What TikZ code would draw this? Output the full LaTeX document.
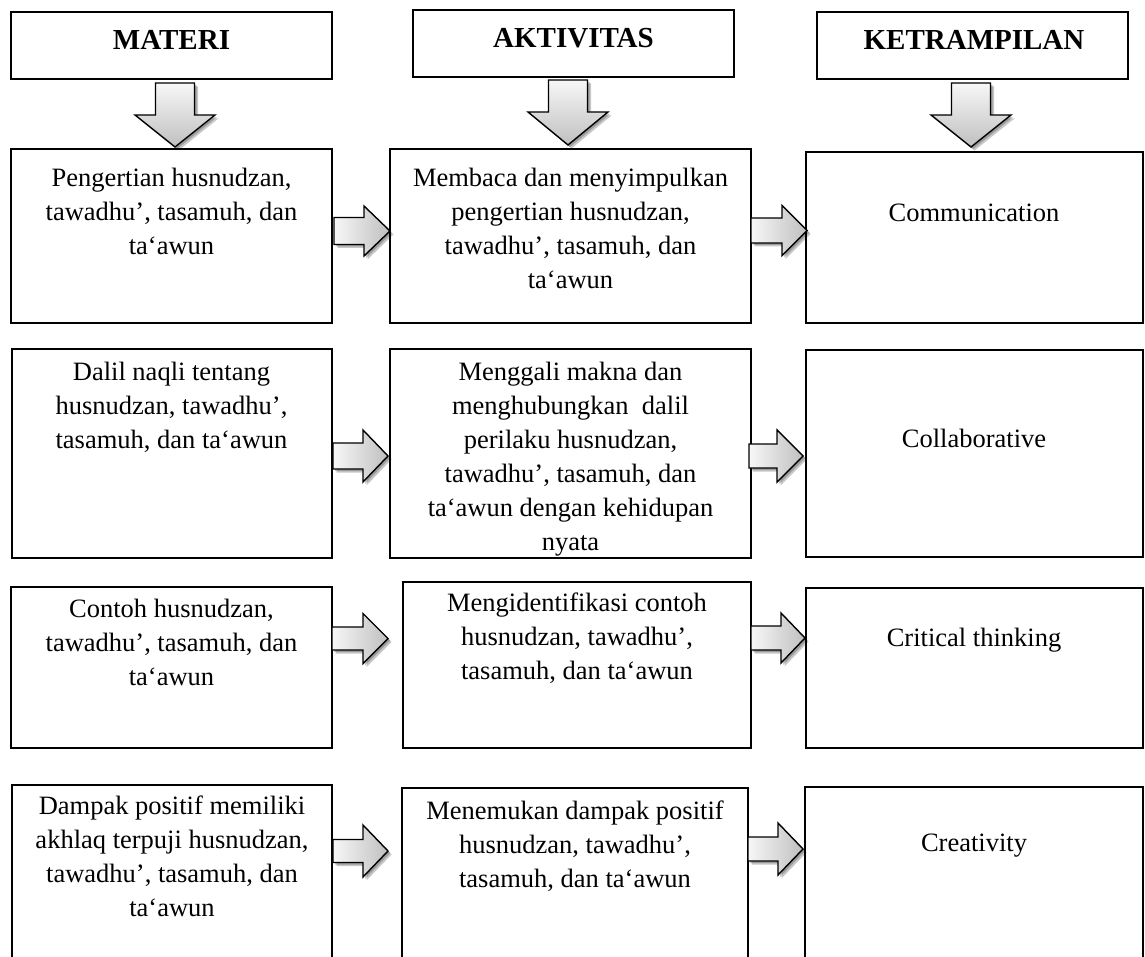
\documentclass[tikz,border=0pt]{standalone}
\usepackage{fontspec}
\setmainfont{Liberation Serif}
\usetikzlibrary{calc}

\tikzset{
  box/.style={draw=black, line width=1.6pt, fill=white, inner sep=0pt, outer sep=0pt, anchor=north west},
  hdr/.style={font=\fontsize{29}{34}\selectfont\bfseries, inner sep=0pt, anchor=base},
  txt/.style={font=\fontsize{26.5}{34}\selectfont, align=center, inner sep=0pt},
  rshade/.style={left color=gray!6, right color=gray!50, draw=black, line width=1.4pt, line join=miter},
  dshade/.style={top color=gray!6, bottom color=gray!50, draw=black, line width=1.4pt, line join=miter},
  shd/.style={fill=black, opacity=0.22},
}

% box: name, x1, y1, x2, y2
\newcommand\mybox[5]{\node[box, minimum width={(#4-#2)*1pt}, minimum height={(#5-#3)*1pt}] (#1) at (#2,#3) {};}
% right block arrow: x0, xhead, xtip, ycentre, shaft half-height, head half-height
\newcommand\rarr[6]{%
  \foreach \s in {2,3.5}{\fill[shd, xshift=\s pt, yshift=-\s pt] (#1,#4-#5) -- (#2,#4-#5) -- (#2,#4-#6) -- (#3,#4) -- (#2,#4+#6) -- (#2,#4+#5) -- (#1,#4+#5) -- cycle;}
  \draw[rshade] (#1,#4-#5) -- (#2,#4-#5) -- (#2,#4-#6) -- (#3,#4) -- (#2,#4+#6) -- (#2,#4+#5) -- (#1,#4+#5) -- cycle;}
% down block arrow: xc, ytop, yhead, ytip, shaft half-width, head half-width
\newcommand\darr[6]{%
  \foreach \s in {2,3.5}{\fill[shd, xshift=\s pt, yshift=-\s pt] (#1-#5,#2) -- (#1+#5,#2) -- (#1+#5,#3) -- (#1+#6,#3) -- (#1,#4) -- (#1-#6,#3) -- (#1-#5,#3) -- cycle;}
  \draw[dshade] (#1-#5,#2) -- (#1+#5,#2) -- (#1+#5,#3) -- (#1+#6,#3) -- (#1,#4) -- (#1-#6,#3) -- (#1-#5,#3) -- cycle;}

\begin{document}
\begin{tikzpicture}[x=1pt, y=-1pt]
\useasboundingbox (0,0) rectangle (1145,957);
\fill[white] (0,0) rectangle (1145,957);
\clip (0,0) rectangle (1145,957);

% headers
\mybox{hm}{11}{12}{332}{79}
\mybox{ha}{413}{10}{734}{77}
\mybox{hk}{817}{12}{1128}{79}
\node[hdr] (hmt) at (171.5,50) {MATERI};
\node[hdr] (hat) at (573.5,48) {AKTIVITAS};
\node[hdr] (hkt) at (974,50) {KETRAMPILAN};

% down arrows
\darr{175}{83}{115}{147}{19.5}{40}
\darr{568}{80}{112}{145}{19.5}{40}
\darr{971}{83}{115}{147}{19.5}{40}

% row 1
\mybox{m1}{11}{149}{332}{323}
\mybox{a1}{390}{149}{751}{323}
\mybox{k1}{806}{152}{1143}{323}
% row 2
\mybox{m2}{12}{349}{332}{558}
\mybox{a2}{390}{349}{751}{558}
\mybox{k2}{806}{350}{1143}{557}
% row 3
\mybox{m3}{11}{587}{332}{748}
\mybox{a3}{403}{582}{751}{748}
\mybox{k3}{806}{588}{1143}{748}
% row 4 (cut by the lower edge)
\mybox{m4}{12}{785}{332}{1000}
\mybox{a4}{402}{788}{748}{1000}
\mybox{k4}{805}{787}{1143}{1000}

% right arrows
\rarr{334}{364}{390}{231}{13.5}{25}
\rarr{751}{782}{807}{230.5}{12.5}{25}
\rarr{333}{363}{388}{456}{13}{26}
\rarr{749}{777}{803}{456}{12}{26}
\rarr{332}{363}{388}{638.5}{11.5}{25}
\rarr{751}{781}{805}{638}{12}{25}
\rarr{333}{363}{388}{851}{11.5}{26}
\rarr{748}{778}{803}{849}{12}{26}

% texts
\node[txt] (m1t) at (171.5,211) {Pengertian husnudzan,\\tawadhu’, tasamuh, dan\\ta‘awun};
\node[txt] (a1t) at (570.5,228) {Membaca dan menyimpulkan\\pengertian husnudzan,\\tawadhu’, tasamuh, dan\\ta‘awun};
\node[txt] (k1t) at (974,213) {Communication};

\node[txt] (m2t) at (171.5,407.5) {Dalil naqli tentang\\husnudzan, tawadhu’,\\tasamuh, dan ta‘awun};
\node[txt] (a2t) at (570.5,459) {Menggali makna dan\\menghubungkan~ dalil\\perilaku husnudzan,\\tawadhu’, tasamuh, dan\\ta‘awun dengan kehidupan\\nyata};
\node[txt] (k2t) at (974,438) {Collaborative};

\node[txt] (m3t) at (171.5,642) {Contoh husnudzan,\\tawadhu’, tasamuh, dan\\ta‘awun};
\node[txt] (a3t) at (577,638) {Mengidentifikasi contoh\\husnudzan, tawadhu’,\\tasamuh, dan ta‘awun};
\node[txt] (k3t) at (974,640) {Critical thinking};

\node[txt] (m4t) at (172,856) {Dampak positif memiliki\\akhlaq terpuji husnudzan,\\tawadhu’, tasamuh, dan\\ta‘awun};
\node[txt] (a4t) at (575,846) {Menemukan dampak positif\\husnudzan, tawadhu’,\\tasamuh, dan ta‘awun};
\node[txt] (k4t) at (974,846) {Creativity};
\end{tikzpicture}
\end{document}
